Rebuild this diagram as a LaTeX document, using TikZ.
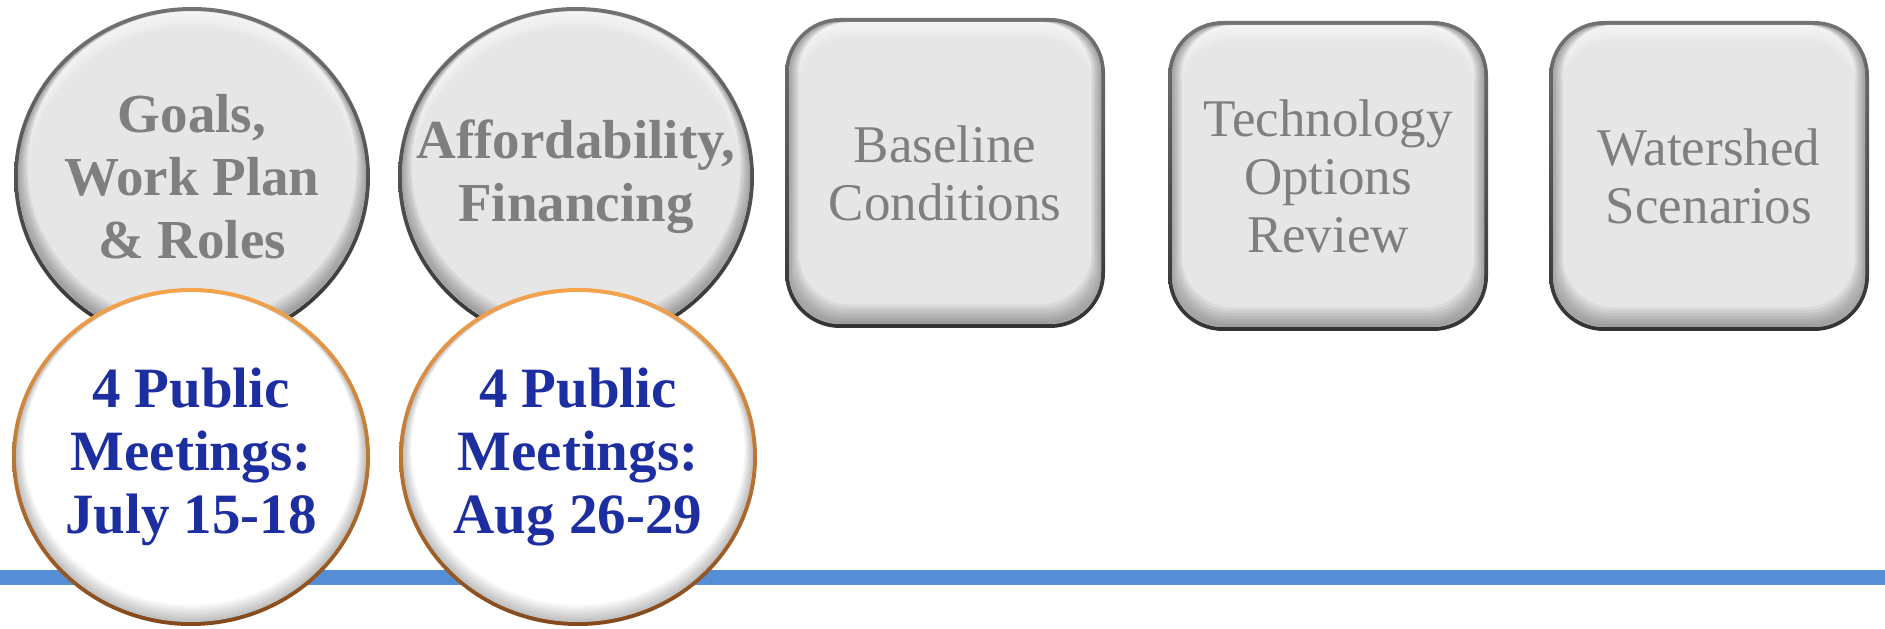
\documentclass[tikz,border=0pt]{standalone}
\usepackage{fontspec}
\setmainfont{Liberation Serif}
\usetikzlibrary{shapes.geometric}
\definecolor{linblue}{RGB}{85,142,213}
\definecolor{txtgray}{RGB}{127,127,127}
\definecolor{txtblue}{RGB}{28,46,160}
\definecolor{shapegray}{RGB}{230,230,230}
\definecolor{rimtop}{RGB}{115,115,115}
\definecolor{rimbot}{RGB}{50,50,50}
\definecolor{orangetop}{RGB}{247,165,76}
\definecolor{orangebot}{RGB}{130,72,28}
\tikzset{
  timeline/.style={draw=linblue, line width=15pt},
  graycirc/.style={ellipse, minimum width=356pt, minimum height=340pt, inner sep=0pt, outer sep=0pt,
    path picture={
      \coordinate (pc) at (path picture bounding box.center);
      \shade[top color=rimtop, bottom color=rimbot] ([shift={(-2pt,-2pt)}]path picture bounding box.south west) rectangle ([shift={(2pt,2pt)}]path picture bounding box.north east);
      \fill[shapegray] (pc) ellipse [x radius=174pt, y radius=166pt];
      \foreach \k in {1,...,6}{
        \fill[white, opacity=0.15, even odd rule] (pc) ellipse [x radius=174pt, y radius=166pt]
          ([yshift={-1.3pt*\k}]pc) ellipse [x radius={174pt-1.3pt*\k}, y radius={166pt-1.3pt*\k}];
      }
      \foreach \k in {1,...,7}{
        \fill[black, opacity=0.05, even odd rule] (pc) ellipse [x radius=174pt, y radius=166pt]
          ([yshift={1.4pt*\k}]pc) ellipse [x radius={174pt-1.4pt*\k}, y radius={166pt-1.4pt*\k}];
      }
    }},
  whitecirc/.style={ellipse, minimum width=358pt, minimum height=338pt, inner sep=0pt, outer sep=0pt,
    path picture={
      \coordinate (pc) at (path picture bounding box.center);
      \shade[top color=orangetop, middle color=orangetop!75!orangebot, bottom color=orangebot] ([shift={(-2pt,-2pt)}]path picture bounding box.south west) rectangle ([shift={(2pt,2pt)}]path picture bounding box.north east);
      \fill[white] (pc) ellipse [x radius=175pt, y radius=165pt];
      \foreach \k in {1,...,7}{
        \fill[black, opacity=0.035, even odd rule] (pc) ellipse [x radius=175pt, y radius=165pt]
          ([yshift={1.2pt*\k}]pc) ellipse [x radius={175pt-1.2pt*\k}, y radius={165pt-1.2pt*\k}];
      }
    }},
  boxshape/.style={rectangle, rounded corners=55pt, minimum width=320pt, minimum height=310pt, inner sep=0pt, outer sep=0pt,
    path picture={
      \coordinate (psw) at (path picture bounding box.south west);
      \coordinate (pne) at (path picture bounding box.north east);
      \shade[sharp corners, top color=rimtop, bottom color=rimbot] ([shift={(-2pt,-2pt)}]psw) rectangle ([shift={(2pt,2pt)}]pne);
      \fill[shapegray, rounded corners=51pt] ([shift={(4pt,4pt)}]psw) rectangle ([shift={(-4pt,-4pt)}]pne);
      \foreach \k in {1,...,6}{
        \fill[white, opacity=0.15, even odd rule, rounded corners=51pt]
          ([shift={(4pt,4pt)}]psw) rectangle ([shift={(-4pt,-4pt)}]pne)
          ([shift={({4pt+1.3pt*\k},4pt)}]psw) rectangle ([shift={({-4pt-1.3pt*\k},{-4pt-2.6pt*\k})}]pne);
      }
      \foreach \k in {1,...,7}{
        \fill[black, opacity=0.05, even odd rule, rounded corners=51pt]
          ([shift={(4pt,4pt)}]psw) rectangle ([shift={(-4pt,-4pt)}]pne)
          ([shift={({4pt+1.4pt*\k},{4pt+2.8pt*\k})}]psw) rectangle ([shift={({-4pt-1.4pt*\k},-4pt)}]pne);
      }
    }},
  graytext/.style={align=center, text=txtgray, inner sep=0pt, font={\fontsize{55}{63}\selectfont\bfseries}},
  bluetext/.style={align=center, text=txtblue, inner sep=0pt, font={\fontsize{57}{63}\selectfont\bfseries}},
  boxtext/.style={align=center, text=txtgray, inner sep=0pt, font={\fontsize{53}{58}\selectfont}},
}
\begin{document}
\begin{tikzpicture}[x=1pt,y=1pt]
\useasboundingbox (0,0) rectangle (1885,629);
\coordinate (lnA) at (0,51.5);
\coordinate (lnB) at (1885,51.5);
\draw[timeline] (lnA) -- (lnB);

\node[graycirc] (g1) at (192,452) {};
\node[graycirc] (g2) at (576,452) {};
\node[graytext] (g1t) at (g1) {Goals,\\Work Plan\\\& Roles};
\node[graytext] (g2t) at (g2) {Affordability,\\Financing};

\node[whitecirc] (w1) at (191,172) {};
\node[whitecirc] (w2) at (578,172) {};
\node[bluetext] (w1t) at (w1) {4 Public\\Meetings:\\July 15-18};
\node[bluetext] (w2t) at (w2) {4 Public\\Meetings:\\Aug 26-29};

\node[boxshape] (b1) at (945,456) {};
\node[boxshape] (b2) at (1328,453) {};
\node[boxshape] (b3) at (1709,453) {};
\node[boxtext] (b1t) at (b1) {Baseline\\Conditions};
\node[boxtext] (b2t) at (b2) {Technology\\Options\\Review};
\node[boxtext] (b3t) at (b3) {Watershed\\Scenarios};
\end{tikzpicture}
\end{document}
